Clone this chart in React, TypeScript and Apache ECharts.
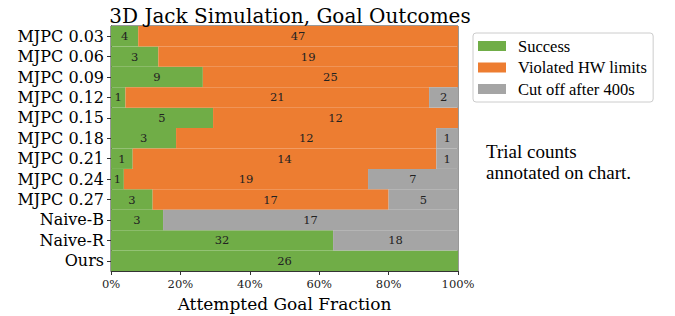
import React, { useEffect, useRef } from "react";
import * as echarts from "echarts";

const categories = ["MJPC 0.03", "MJPC 0.06", "MJPC 0.09", "MJPC 0.12", "MJPC 0.15", "MJPC 0.18", "MJPC 0.21", "MJPC 0.24", "MJPC 0.27", "Naive-B", "Naive-R", "Ours"];
const successCounts = [4, 3, 9, 1, 5, 3, 1, 1, 3, 3, 32, 26];
const violatedCounts = [47, 19, 25, 21, 12, 12, 14, 19, 17, 0, 0, 0];
const cutoffCounts = [0, 0, 0, 2, 0, 1, 1, 7, 5, 17, 18, 0];
const xTicks = [0, 20, 40, 60, 80, 100];

const SERIF = "DejaVu Serif";
const TIMES = "Liberation Serif";

export default function App() {
  const ref = useRef<HTMLDivElement>(null);
  useEffect(() => {
    if (!ref.current) return;
    const chart = echarts.init(ref.current, null, { renderer: "svg" });
    const totals = categories.map((_, i) => successCounts[i] + violatedCounts[i] + cutoffCounts[i]);
    const mk = (name: string, counts: number[], color: string) => ({
      name,
      type: "bar",
      stack: "all",
      barCategoryGap: 0,
      itemStyle: { color },
      data: counts.map((c, i) => ({ value: (c / totals[i]) * 100, count: c })),
      label: {
        show: true,
        position: "inside",
        fontFamily: SERIF,
        fontSize: 11.5,
        color: "#222",
        formatter: (p: any) => (p.data.count > 0 ? String(p.data.count) : ""),
      },
      emphasis: { disabled: true },
    });
    chart.setOption({
      animation: false,
      title: {
        text: "3D Jack Simulation, Goal Outcomes",
        left: 285,
        textAlign: "center",
        top: 1,
        textStyle: { fontFamily: SERIF, fontSize: 20, fontWeight: "normal", color: "#000" },
      },
      grid: { left: 111, top: 26, width: 347, height: 245, show: true, borderColor: "#333", borderWidth: 1, backgroundColor: "transparent", containLabel: false, outerBoundsMode: "none" },
      legend: {
        orient: "vertical",
        left: 473,
        top: 33,
        itemWidth: 28,
        itemHeight: 10,
        itemGap: 4.5,
        padding: [4.5, 6, 4.5, 5],
        borderColor: "#ccc",
        borderWidth: 1,
        borderRadius: 3,
        icon: "rect",
        textStyle: { fontFamily: TIMES, fontSize: 16.5, color: "#000", lineHeight: 16, padding: [0, 0, 0, 7] },
        data: ["Success", "Violated HW limits", "Cut off after 400s"],
        selectedMode: false,
      },
      xAxis: {
        type: "value",
        min: 0,
        max: 100,
        interval: 20,
        name: "Attempted Goal Fraction",
        nameLocation: "middle",
        nameGap: 24,
        nameTextStyle: { fontFamily: SERIF, fontSize: 17, color: "#000" },
        axisLine: { show: true, lineStyle: { color: "#333" } },
        axisTick: { show: true, length: 4, lineStyle: { color: "#333" } },
        axisLabel: { fontFamily: SERIF, fontSize: 11.5, color: "#222", margin: 7, formatter: (v: number) => (xTicks.includes(v) ? v + "%" : "") },
        splitLine: { show: false },
      },
      yAxis: {
        type: "category",
        inverse: true,
        data: categories,
        axisLine: { show: true, lineStyle: { color: "#333" } },
        axisTick: { show: true, length: 4, alignWithLabel: true, interval: 0, lineStyle: { color: "#333" } },
        axisLabel: { fontFamily: SERIF, fontSize: 16, color: "#000", margin: 7, interval: 0 },
      },
      graphic: [
        {
          type: "text",
          left: 486,
          top: 141,
          style: { text: "Trial counts\nannotated on chart.", fontFamily: TIMES, fontSize: 19, lineHeight: 21, fill: "#000" },
        },
      ],
      series: [
        mk("Success", successCounts, "#70AD47"),
        mk("Violated HW limits", violatedCounts, "#ED7D31"),
        mk("Cut off after 400s", cutoffCounts, "#A5A5A5"),
      ],
    });
    return () => chart.dispose();
  }, []);
  return <div ref={ref} style={{ width: 675, height: 316, position: "absolute", left: 0, top: 0 }} />;
}
